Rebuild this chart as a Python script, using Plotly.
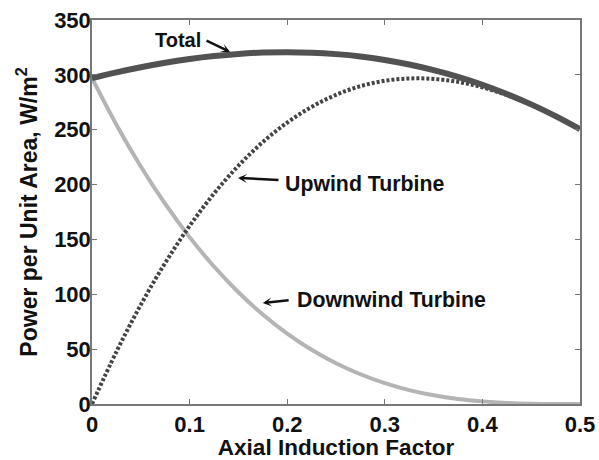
import plotly.graph_objects as go

a_vals = [0, 0.025, 0.05, 0.075, 0.1, 0.125, 0.15, 0.175, 0.2, 0.225, 0.25,
          0.275, 0.3, 0.325, 0.35, 0.375, 0.4, 0.425, 0.45, 0.475, 0.5]
upwind = [0, 47.6, 90.4, 128.6, 162.3, 191.8, 217.2, 238.7, 256.5, 270.8, 281.8,
          289.7, 294.6, 296.7, 296.3, 293.6, 288.6, 281.6, 272.8, 262.4, 250.5]
downwind = [297, 254.6, 216.5, 182.4, 152.1, 125.3, 101.9, 81.6, 64.2, 49.4, 37.1,
            27.1, 19.0, 12.7, 8.0, 4.6, 2.4, 1.0, 0.3, 0.04, 0]
total = [297, 302.2, 306.9, 311.0, 314.4, 317.1, 319.1, 320.3, 320.7, 320.2, 318.9,
         316.8, 313.6, 309.4, 304.3, 298.2, 291.0, 282.6, 273.1, 262.4, 250.5]

x_ticks = [0, 0.1, 0.2, 0.3, 0.4, 0.5]
x_labels = ["0", "0.1", "0.2", "0.3", "0.4", "0.5"]
y_ticks = [0, 50, 100, 150, 200, 250, 300, 350]

FONT = "Liberation Sans, Arial, sans-serif"
INK = "#111111"

fig = go.Figure()
fig.add_trace(go.Scatter(x=a_vals, y=downwind, mode="lines",
                         line=dict(color="#b4b4b4", width=4, shape="spline"), name="Downwind Turbine"))
fig.add_trace(go.Scatter(x=a_vals, y=upwind, mode="lines",
                         line=dict(color="#444444", width=4, dash="3px,2px", shape="spline"), name="Upwind Turbine"))
fig.add_trace(go.Scatter(x=a_vals, y=total, mode="lines",
                         line=dict(color="#525252", width=6, shape="spline"), name="Total"))

def arrow(hx, hy, tx, ty):
    return dict(x=hx, y=hy, ax=tx, ay=ty, axref="x", ayref="y", xref="x", yref="y", text="",
                showarrow=True, arrowhead=3, arrowsize=0.6, arrowwidth=2.5, arrowcolor=INK)

annotations = [
    dict(x=0.0881, y=332, text="<b>Total</b>", showarrow=False,
         font=dict(family=FONT, size=20, color=INK), xref="x", yref="y"),
    dict(x=0.2787, y=200.5, text="<b>Upwind Turbine</b>", showarrow=False,
         font=dict(family=FONT, size=21.3, color=INK), xref="x", yref="y"),
    dict(x=0.3064, y=95, text="<b>Downwind Turbine</b>", showarrow=False,
         font=dict(family=FONT, size=21.3, color=INK), xref="x", yref="y"),
    arrow(0.1414, 320.9, 0.1158, 331.8),
    arrow(0.1496, 206.0, 0.1926, 204.2),
    arrow(0.1750, 92.0, 0.2030, 94.8),
]

fig.update_layout(
    width=599, height=460,
    margin=dict(l=92, r=19, t=20, b=56),
    paper_bgcolor="white", plot_bgcolor="white",
    showlegend=False,
    font=dict(family=FONT, color=INK),
    annotations=annotations,
)
fig.update_xaxes(range=[0, 0.5], tickvals=x_ticks, ticktext=[f"<b>{t}</b>" for t in x_labels],
                 ticks="inside", ticklen=5, tickcolor="#777", tickwidth=1.2,
                 showline=True, linecolor="#777", linewidth=1.5,
                 mirror="ticks", showgrid=False, zeroline=False, automargin=False,
                 tickfont=dict(family=FONT, size=22, color=INK),
                 title=dict(text="<b>Axial Induction Factor</b>",
                            font=dict(family=FONT, size=22.5, color=INK), standoff=6))
fig.update_yaxes(range=[0, 350], tickvals=y_ticks, ticktext=[f"<b>{t}</b>" for t in y_ticks],
                 ticks="inside", ticklen=5, tickcolor="#777", tickwidth=1.2,
                 showline=True, linecolor="#777", linewidth=1.5,
                 mirror="ticks", showgrid=False, zeroline=False, automargin=False,
                 ticklabelstandoff=-5,
                 tickfont=dict(family=FONT, size=22, color=INK),
                 title=dict(text="<b>Power per Unit Area, W/m<sup>2</sup></b>",
                            font=dict(family=FONT, size=23, color=INK), standoff=10))

fig.write_html("out.html", config={"displayModeBar": False},
               post_script="document.body.style.margin='0';document.body.style.overflow='hidden';")
